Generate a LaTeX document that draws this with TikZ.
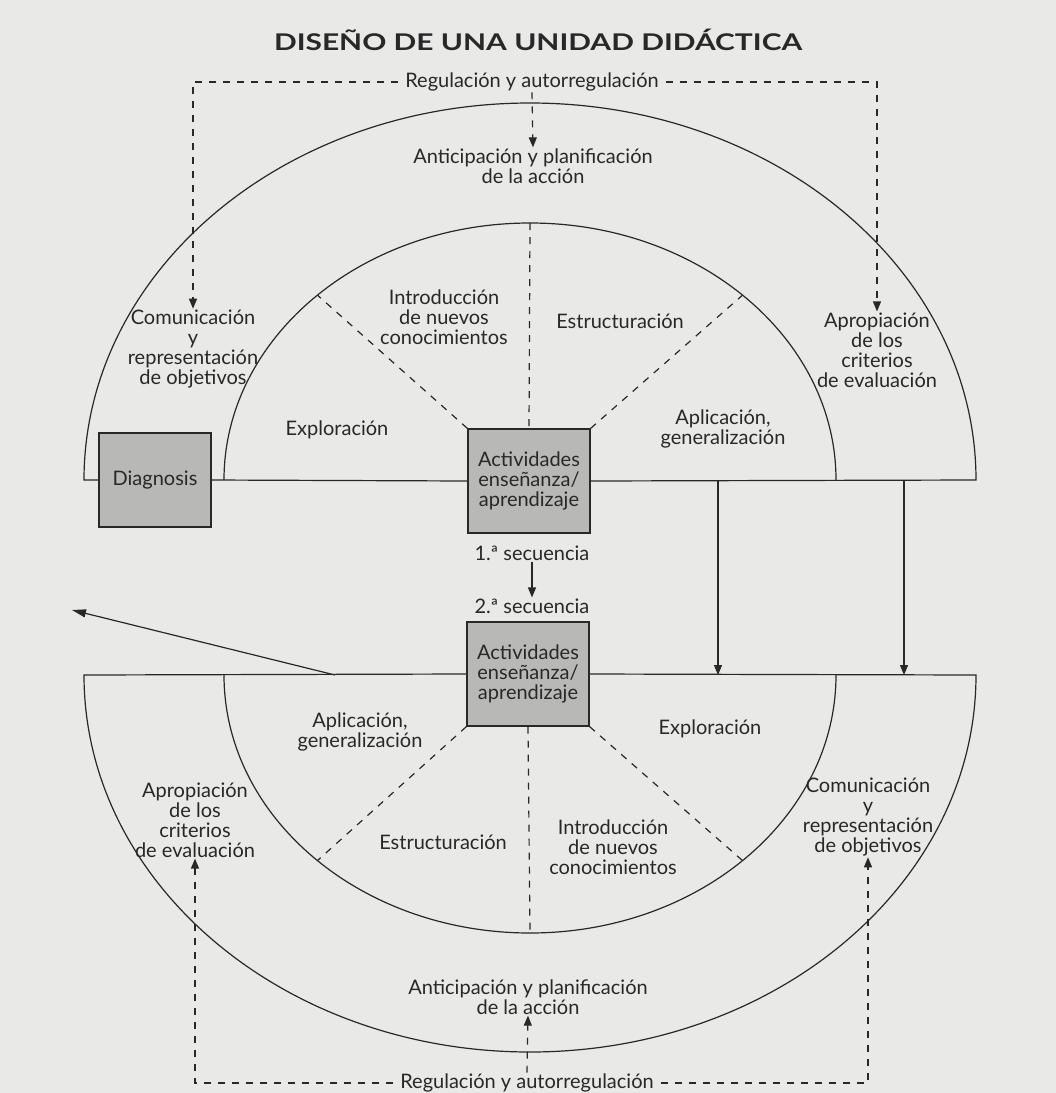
\documentclass[tikz,border=0pt]{standalone}
\usepackage{fontspec}
\setmainfont{Lato}
\usetikzlibrary{arrows.meta,calc}
\definecolor{bg}{RGB}{233,233,231}
\definecolor{ink}{RGB}{40,40,40}
\definecolor{boxfill}{RGB}{184,184,182}
\begin{document}
\begin{tikzpicture}[x=1pt,y=-1pt,
  ln/.style={draw=ink, line width=1.2pt},
  dsh/.style={draw=ink, line width=1.2pt, dash pattern=on 7pt off 7pt},
  tip/.style={-{Triangle[length=10pt,width=8pt]}},
  lbl/.style={text=ink, align=center, font=\fontsize{20}{20}\selectfont, inner sep=1pt},
  regl/.style={lbl, inner xsep=7pt},
  actbox/.style={draw=ink, line width=1.2pt, fill=boxfill, minimum width=122pt, minimum height=104pt, align=center, text=ink, font=\fontsize{20}{20}\selectfont, inner sep=0pt},
]
\fill[bg] (0,0) rectangle (1056,1093);
\useasboundingbox (0,0) rectangle (1056,1093);

% title
\node[text=ink] (title) at (538,40) {\scalebox{1.3}[1]{\fontsize{23}{23}\selectfont\bfseries DISEÑO DE UNA UNIDAD DIDÁCTICA}};

% centres
\coordinate (tc) at (530,480);
\coordinate (bc) at (530,675);

% boxes
\node[actbox] (act1) at (529,481) {Actividades\\enseñanza/\\aprendizaje};
\node[actbox, minimum width=112pt, minimum height=94pt] (diag) at (155,480) {Diagnosis};
\node[actbox] (act2) at (528,674) {Actividades\\enseñanza/\\aprendizaje};

% upper half shapes
\draw[ln] (diag.west) -- (84,480) arc[start angle=180, end angle=360, x radius=446, y radius=377] -- (act1.east);
\draw[ln] (diag.east) -- (act1.west);
\draw[ln] (224,480) arc[start angle=180, end angle=360, x radius=306, y radius=257];

% lower half shapes
\draw[ln] (act2.west) -- (84,675) arc[start angle=180, end angle=0, x radius=446, y radius=377] -- (act2.east);
\draw[ln] (224,675) arc[start angle=180, end angle=0, x radius=306, y radius=258];

% coordinates on inner arcs
\coordinate (tiA) at ($(tc)+({306*cos(226)},{257*sin(226)})$);
\coordinate (tiB) at ($(tc)+({306*cos(314)},{257*sin(314)})$);
\coordinate (tiApex) at (530,223);
\coordinate (biA) at ($(bc)+({306*cos(134)},{258*sin(134)})$);
\coordinate (biB) at ($(bc)+({306*cos(46)},{258*sin(46)})$);
\coordinate (biApex) at (530,933);

% labels upper
\node[regl] (regtop) at (532,82) {Regulación y autorregulación};
\node[lbl] (antictop) at (533,166) {Anticipación y planificación\\de la acción};
\node[lbl] (comuntop) at (193,349) {Comunicación\\y\\representación\\de objetivos};
\node[lbl] (introtop) at (444,317) {Introducción\\de nuevos\\conocimientos};
\node[lbl] (estrtop) at (620,321) {Estructuración};
\node[lbl] (aproptop) at (877,350) {Apropiación\\de los\\criterios\\de evaluación};
\node[lbl] (explortop) at (337,430) {Exploración};
\node[lbl] (aplictop) at (723,429) {Aplicación,\\generalización};

% sequence
\node[lbl] (sec1) at (532,553) {1.ª secuencia};
\node[lbl] (sec2) at (532,606) {2.ª secuencia};

% labels lower
\node[lbl] (aplicbot) at (360,732) {Aplicación,\\generalización};
\node[lbl] (explorbot) at (710,729) {Exploración};
\node[lbl] (apropbot) at (195,820) {Apropiación\\de los\\criterios\\de evaluación};
\node[lbl] (estrbot) at (443,842) {Estructuración};
\node[lbl] (introbot) at (613,847) {Introducción\\de nuevos\\conocimientos};
\node[lbl] (comunbot) at (868,817) {Comunicación\\y\\representación\\de objetivos};
\node[lbl] (anticbot) at (528,997) {Anticipación y planificación\\de la acción};
\node[regl] (regbot) at (527,1083) {Regulación y autorregulación};

% dashed regulation connectors, top
\draw[dsh,tip] (regtop.west) -| (comuntop.north);
\draw[dsh,tip] (regtop.east) -| (aproptop.north);
\draw[dsh,tip] (regtop.south) -- (antictop.north);
\draw[dsh] (tiApex) -- (act1.north);
\draw[dsh] (act1.north west) -- (tiA);
\draw[dsh] (act1.north east) -- (tiB);

% dashed, bottom
\draw[dsh,tip] (regbot.west) -| (apropbot.south);
\draw[dsh,tip] (regbot.east) -| (comunbot.south);
\draw[dsh,tip] (regbot.north) -- (anticbot.south);
\draw[dsh] (act2.south) -- (biApex);
\draw[dsh] (act2.south west) -- (biA);
\draw[dsh] (act2.south east) -- (biB);

% solid arrows
\draw[ln,tip] (sec1.south) -- (sec2.north);
\coordinate (v1a) at (718,480);
\coordinate (v1b) at (718,675);
\coordinate (v2a) at (904,480);
\coordinate (v2b) at (904,675);
\draw[ln,tip] (v1a) -- (v1b);
\draw[ln,tip] (v2a) -- (v2b);
\coordinate (da) at (335,675);
\coordinate (db) at (72,610);
\draw[ln,-{Triangle[length=14pt,width=8pt]}] (da) -- (db);
\end{tikzpicture}
\end{document}
